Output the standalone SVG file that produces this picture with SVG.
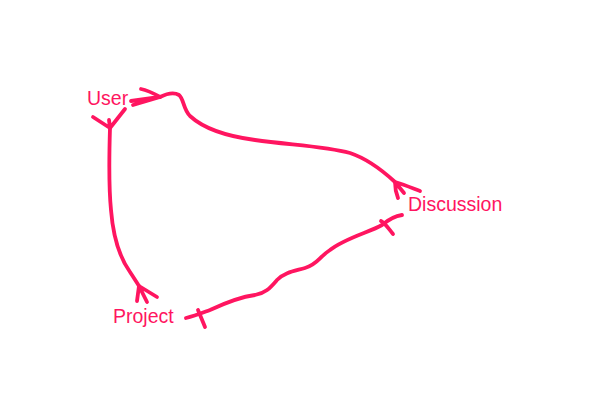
<svg xmlns="http://www.w3.org/2000/svg" width="610" height="416" viewBox="0 0 610 416">
<style>
.e{fill:none;stroke:#ff1560;stroke-width:3.8;stroke-linecap:round;stroke-linejoin:round}
.t{font-family:"Liberation Sans",Arial,sans-serif;font-size:19.5px;fill:#ff1560}
</style>
<rect width="610" height="416" fill="#ffffff"/>
<g id="User"><text class="t" x="87" y="105">User</text></g>
<g id="Discussion"><text class="t" x="408" y="211">Discussion</text></g>
<g id="Project"><text class="t" x="113" y="323">Project</text></g>
<g id="connectors">
<g id="user-discussion">
<path class="e" d="M160 97 C166 94,174 92,179 95 C184 99,183 109,190 116 C203 128,225 136,255 140 C290 145,325 146,350 153 C368 159,382 170,395 182"/>
<path class="e" d="M160 97 C153 93,147 90,141 89 M160 97 L131 101 M160 97 L133 105"/>
<path class="e" d="M395 182 C405 185,412 188,420 191 M395 182 L404 193 M395 182 C395 188,396 193,398 198"/>
</g>
<g id="user-project">
<path class="e" d="M110 128 C109 160,109 190,111 210 C113 235,120 258,130 272 C134 278,137 283,139 286"/>
<path class="e" d="M110 128 L93 117 M110 128 L125 109 M110 128 L109 120"/>
<path class="e" d="M139 286 L137 301 M139 286 L147 302 M139 286 L157 297"/>
</g>
<g id="discussion-project">
<path class="e" d="M402 215 C395 216,388 220,382 225 C370 232,345 238,330 250 C318 258,318 264,305 268 C295 271,285 272,277 280 C270 288,266 293,255 295 C240 297,225 303,210 310 C202 313,195 316,186 318"/>
<path class="e" d="M381 221 C385 223,388 228,393 234"/>
<path class="e" d="M198 310 L205 327"/>
</g>
</g>
</svg>
